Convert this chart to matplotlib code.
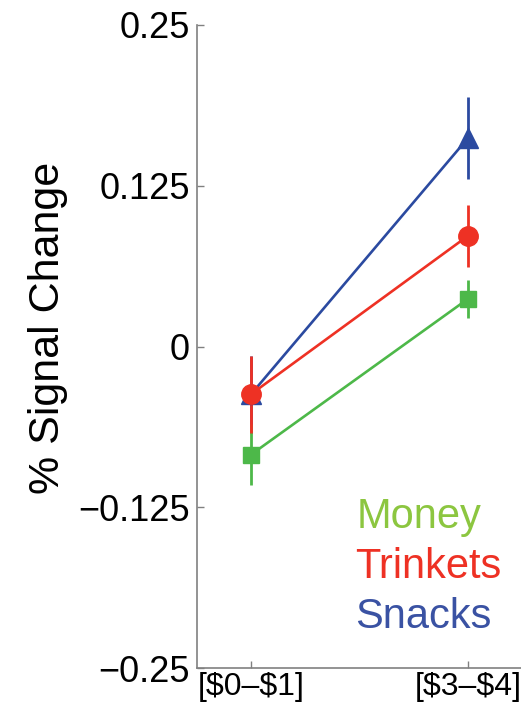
import matplotlib.pyplot as plt

plt.rcParams['font.family'] = ['Liberation Sans', 'DejaVu Sans']

categories = ['[\\$0–\\$1]', '[\\$3–\\$4]']
xpos = [1, 2]

# series: mean and error
money = [-0.084, 0.037]
money_err = [0.024, 0.015]
trinkets = [-0.037, 0.086]
trinkets_err = [0.030, 0.024]
snacks = [-0.037, 0.162]
snacks_err = [0.030, 0.032]

yticks = [-0.25, -0.125, 0, 0.125, 0.25]
yticklabels = ['−0.25', '−0.125', '0', '0.125', '0.25']

green = '#4db849'
green_txt = '#8cc640'
red = '#ee3124'
blue = '#2b4aa0'
blue_txt = '#3a52a3'

H = 716
fig = plt.figure(figsize=(5.21, 7.16), dpi=100)
ax = fig.add_axes([197/521, 1 - 668/H, 1 - 197/521 + 0.002, (668 - 25)/H])

ax.errorbar(xpos, snacks, yerr=snacks_err, color=blue, marker='^', markersize=15,
            lw=1.9, elinewidth=2.0, capsize=0)
ax.errorbar(xpos, money, yerr=money_err, color=green, marker='s', markersize=12,
            lw=1.9, elinewidth=2.0, capsize=0)
ax.errorbar(xpos, trinkets, yerr=trinkets_err, color=red, marker='o', markersize=14,
            lw=1.9, elinewidth=2.0, capsize=0)

ax.set_xlim(0.75, 2.25)
ax.set_ylim(-0.25, 0.25)
ax.set_yticks(yticks)
ax.set_yticklabels(yticklabels)
ax.set_xticks(xpos)
ax.set_xticklabels(categories)

for s in ['top', 'right']:
    ax.spines[s].set_visible(False)
for s in ['left', 'bottom']:
    ax.spines[s].set_color('#808080')
    ax.spines[s].set_linewidth(1.2)
ax.tick_params(direction='in', length=5, width=1, color='#808080',
               labelsize=26, pad=5)
ax.tick_params(axis='x', pad=3, labelsize=23)

fig.text(48/521, 1 - 328/H, '% Signal Change', rotation=90, ha='center',
         va='center', fontsize=31)

ax.text(357, H - 528, 'Money', color=green_txt, fontsize=30, transform=None)
ax.text(355, H - 578, 'Trinkets', color=red, fontsize=30, transform=None)
ax.text(355, H - 628, 'Snacks', color=blue_txt, fontsize=30, transform=None)

fig.savefig('out.png', dpi=100)
